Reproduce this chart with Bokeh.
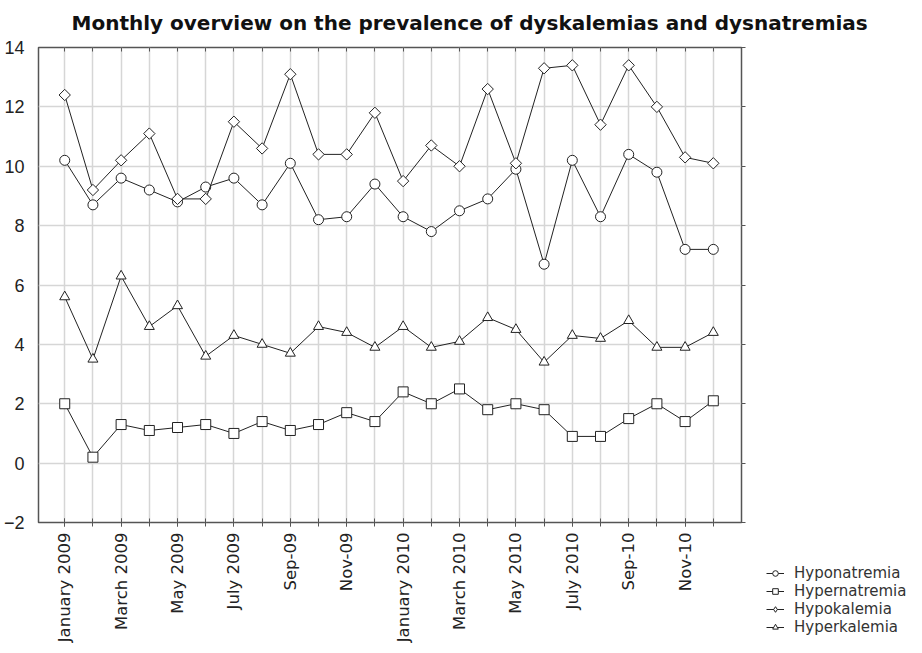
from bokeh.plotting import figure
from bokeh.models import (Range1d, FixedTicker, LinearAxis, Legend, LegendItem, Spacer)
from bokeh.core.properties import value
from bokeh.layouts import row, column
from bokeh.embed import file_html
from bokeh.resources import INLINE
import numpy as np

title_text = "Monthly overview on the prevalence of dyskalemias and dysnatremias"
months = ["Jan 2009", "Feb 2009", "Mar 2009", "Apr 2009", "May 2009", "Jun 2009",
          "Jul 2009", "Aug 2009", "Sep 2009", "Oct 2009", "Nov 2009", "Dec 2009",
          "Jan 2010", "Feb 2010", "Mar 2010", "Apr 2010", "May 2010", "Jun 2010",
          "Jul 2010", "Aug 2010", "Sep 2010", "Oct 2010", "Nov 2010", "Dec 2010"]
tick_labels = ["January 2009", "March 2009", "May 2009", "July 2009", "Sep-09", "Nov-09",
               "January 2010", "March 2010", "May 2010", "July 2010", "Sep-10", "Nov-10"]
y_ticks = [-2, 0, 2, 4, 6, 8, 10, 12, 14]

hyponatremia = [10.2, 8.7, 9.6, 9.2, 8.8, 9.3, 9.6, 8.7, 10.1, 8.2, 8.3, 9.4,
                8.3, 7.8, 8.5, 8.9, 9.9, 6.7, 10.2, 8.3, 10.4, 9.8, 7.2, 7.2]
hypernatremia = [2.0, 0.2, 1.3, 1.1, 1.2, 1.3, 1.0, 1.4, 1.1, 1.3, 1.7, 1.4,
                 2.4, 2.0, 2.5, 1.8, 2.0, 1.8, 0.9, 0.9, 1.5, 2.0, 1.4, 2.1]
hypokalemia = [12.4, 9.2, 10.2, 11.1, 8.9, 8.9, 11.5, 10.6, 13.1, 10.4, 10.4, 11.8,
               9.5, 10.7, 10.0, 12.6, 10.1, 13.3, 13.4, 11.4, 13.4, 12.0, 10.3, 10.1]
hyperkalemia = [5.6, 3.5, 6.3, 4.6, 5.3, 3.6, 4.3, 4.0, 3.7, 4.6, 4.4, 3.9,
                4.6, 3.9, 4.1, 4.9, 4.5, 3.4, 4.3, 4.2, 4.8, 3.9, 3.9, 4.4]

# (name, values, plot marker, size, angle, legend marker, legend size)
series = [("Hyponatremia", hyponatremia, "circle", 10, 0.0, "circle", 8),
          ("Hypernatremia", hypernatremia, "square", 10, 0.0, "square", 8),
          ("Hypokalemia", hypokalemia, "square", 8, np.pi / 4, "diamond", 10),
          ("Hyperkalemia", hyperkalemia, "triangle", 10, 0.0, "triangle", 8)]

x = np.arange(len(months))
all_months = list(range(len(months)))
label_pos = all_months[::2]

# ---- title strip ----
title_fig = figure(width=906, height=34, output_backend="svg", toolbar_location=None,
                   x_range=Range1d(0, 906), y_range=Range1d(0, 34), min_border=0,
                   x_axis_type=None, y_axis_type=None, outline_line_color=None)
title_fig.grid.visible = False
title_fig.text(x=[71], y=[12], text=[title_text], text_font=value("DejaVu Sans"),
               text_font_size="20px", text_font_style="bold", text_color="#111111",
               text_baseline="alphabetic", text_align="left")

# ---- main chart ----
p = figure(width=749, height=611, output_backend="svg", toolbar_location=None,
           x_range=Range1d(-0.93, 24.0), y_range=Range1d(-2, 14),
           min_border_left=34, min_border_right=8, min_border_top=13,
           min_border_bottom=123)

p.outline_line_color = "#555555"
p.outline_line_width = 1.5
p.background_fill_color = "white"
p.border_fill_color = "white"

p.xaxis.ticker = FixedTicker(ticks=label_pos, minor_ticks=all_months)
p.xaxis.major_label_overrides = {pos: lab for pos, lab in zip(label_pos, tick_labels)}
p.xaxis.major_label_orientation = np.pi / 2
p.xaxis.major_label_text_font = "DejaVu Sans"
p.xaxis.major_label_text_font_size = "16.5px"
p.xaxis.major_label_text_color = "#222222"
p.xaxis.axis_line_color = None
p.xaxis.major_tick_in = 4
p.xaxis.major_tick_out = 4
p.xaxis.minor_tick_in = 4
p.xaxis.minor_tick_out = 4
p.xaxis.major_tick_line_color = "#555555"
p.xaxis.minor_tick_line_color = "#555555"
p.xaxis.major_label_standoff = 6

p.yaxis.ticker = FixedTicker(ticks=y_ticks)
p.yaxis.major_label_text_font = "Liberation Sans"
p.yaxis.major_label_text_font_size = "18px"
p.yaxis.major_label_text_color = "#222222"
p.yaxis.axis_line_color = None
p.yaxis.major_tick_line_color = None
p.yaxis.minor_tick_line_color = None
p.yaxis.major_label_standoff = 8

top_ax = LinearAxis(ticker=FixedTicker(ticks=[], minor_ticks=all_months),
                    axis_line_color=None, minor_tick_in=4, minor_tick_out=0,
                    minor_tick_line_color="#555555", major_tick_line_color=None)
p.add_layout(top_ax, "above")
right_ax = LinearAxis(ticker=FixedTicker(ticks=[], minor_ticks=y_ticks),
                      axis_line_color=None, minor_tick_in=0, minor_tick_out=4,
                      minor_tick_line_color="#555555", major_tick_line_color=None)
p.add_layout(right_ax, "right")

p.xgrid.ticker = FixedTicker(ticks=all_months)
p.xgrid.grid_line_color = "#d6d6d6"
p.xgrid.grid_line_width = 1.5
p.ygrid.ticker = FixedTicker(ticks=y_ticks)
p.ygrid.grid_line_color = "#d6d6d6"
p.ygrid.grid_line_width = 1.5

for name, vals, marker, size, ang, lm, ls in series:
    p.line(x, vals, line_color="#222222", line_width=1)
    p.scatter(x, vals, marker=marker, size=size, angle=ang,
              line_color="#222222", fill_color="white", line_width=1)

# ---- legend (below-right of the frame) ----
leg_fig = figure(width=150, height=91, output_backend="svg", toolbar_location=None,
                 x_range=Range1d(0, 1), y_range=Range1d(0, 1),
                 min_border=0, outline_line_color=None)
leg_fig.axis.visible = False
leg_fig.grid.visible = False
items = []
for name, vals, marker, size, ang, lm, ls in series:
    ln = leg_fig.line([5, 6], [5, 6], line_color="#222222", line_width=1)
    sc = leg_fig.scatter([5], [5], marker=lm, size=ls,
                         line_color="#222222", fill_color="white", line_width=1)
    items.append(LegendItem(label=name, renderers=[ln, sc]))
legend = Legend(items=items, location="top_left", orientation="vertical",
                label_text_font="DejaVu Sans", label_text_font_size="15px",
                label_text_color="#333333", glyph_width=18, glyph_height=14,
                label_height=14, spacing=0, padding=0, margin=10,
                label_standoff=10, border_line_color=None,
                background_fill_alpha=0)
leg_fig.add_layout(legend, "center")

layout = column(title_fig,
                row(p, Spacer(width=7, height=10), column(Spacer(width=150, height=520), leg_fig)))

open("out.html", "w").write(file_html(layout, INLINE))
